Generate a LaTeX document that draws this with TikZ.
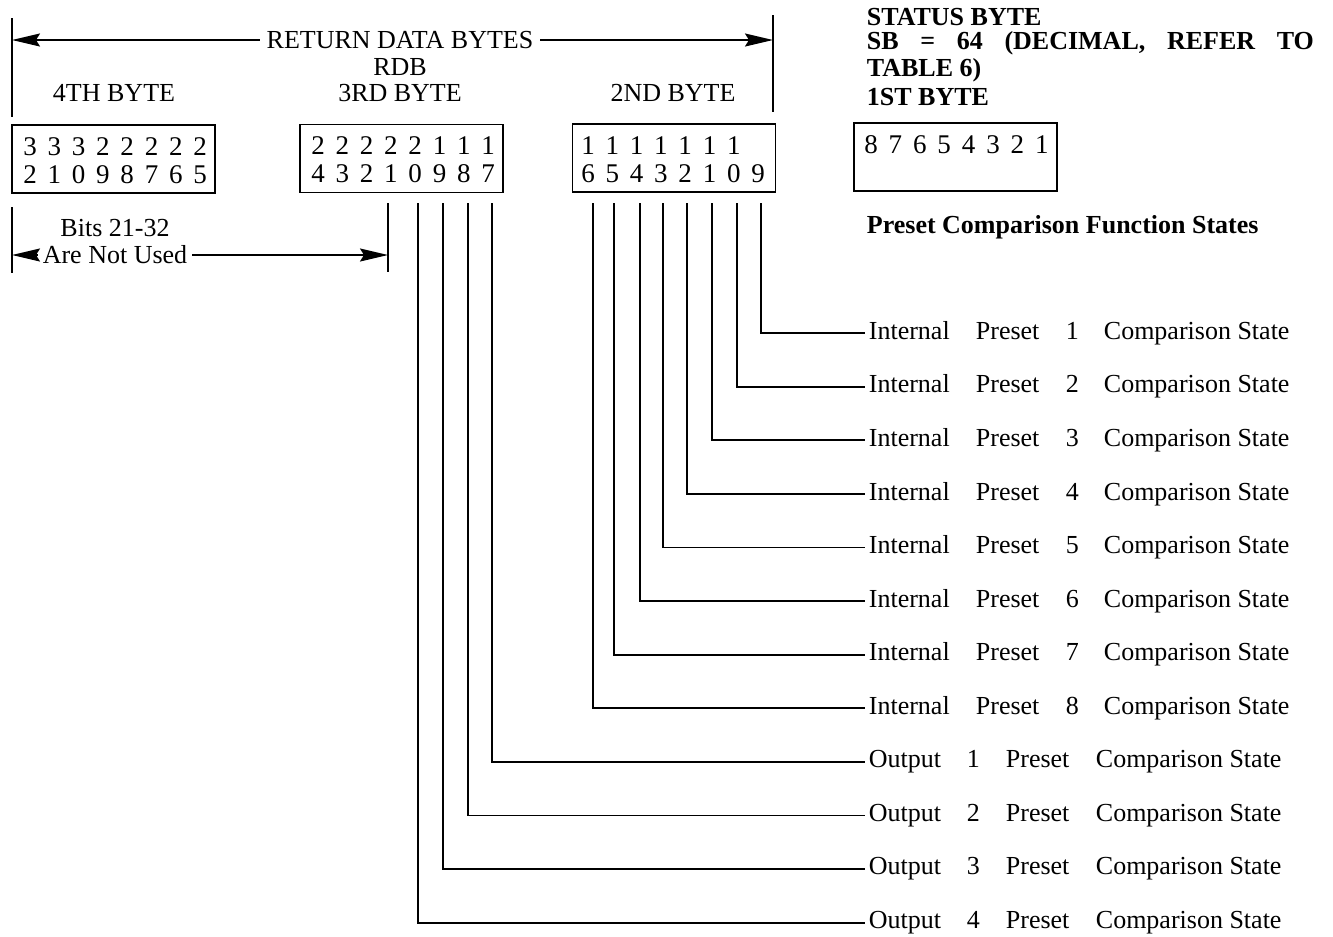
\documentclass[tikz,border=0pt]{standalone}
\usepackage{fontspec}
\setmainfont{Liberation Serif}
\usetikzlibrary{arrows.meta,positioning,calc}
\tikzset{every picture/.style={line width=0.9pt}}

\begin{document}
\begin{tikzpicture}[x=0.5pt,y=-0.5pt,
    font=\fontsize{13}{15}\selectfont,
    hd/.style={font=\fontsize{13}{15}\selectfont\bfseries,anchor=west,inner sep=0pt},
    lbl/.style={anchor=west,inner sep=1.5pt},
    dg/.style={font=\fontsize{13.5}{15}\selectfont,inner sep=0pt},
    bytebox/.style={draw,minimum width=101.5pt,minimum height=34pt,inner sep=0pt},
    tip/.style={-{Stealth[length=14pt,width=6.5pt,inset=2pt]}}]
    \fill[white] (0,0) rectangle (1333,933);
    % return data bytes
    \node[inner sep=3pt] (rdbt) at (400,40) {RETURN DATA BYTES};
    \node (rdb) at (400,67) {RDB};
    \coordinate (ltop) at (12,18);
    \coordinate (lbot) at (12,117);
    \coordinate (rtop) at (773,15);
    \coordinate (rbot) at (773,112);
    \draw (ltop) -- (lbot);
    \draw (rtop) -- (rbot);
    \draw[tip] (rdbt.west) -- (rdbt.west -| ltop);
    \draw[tip] (rdbt.east) -- (rdbt.east -| rtop);
    \node (t4) at (114,93) {4TH BYTE};
    \node (t3) at (400,93) {3RD BYTE};
    \node (t2) at (673,93) {2ND BYTE};
    % status byte
    \node[hd] (st1) at (866,17) {STATUS BYTE};
    \node[hd] (st2) at (866,43) {\makebox[223.5pt][s]{SB\hfill=\hfill 64\hfill(DECIMAL,\hfill REFER\hfill TO}};
    \node[hd] (st3) at (866,70) {TABLE 6)};
    \node[hd] (st4) at (866,97) {1ST BYTE};
    \node[hd] (pcfs) at (866,227) {Preset Comparison Function States};
    % byte boxes
    \node[bytebox] (byte4) at (113.5,159) {};
    \node[bytebox] (byte3) at (401.5,158.5) {};
    \node[bytebox] (byte2) at (674,158) {};
    \node[bytebox] (byte1) at (955.5,157) {};
    \foreach \d [count=\i from 0] in {3,3,3,2,2,2,2,2}
        \node[dg] (a\i) at ({30+24.3*\i},147) {\d};
    \foreach \d [count=\i from 0] in {2,1,0,9,8,7,6,5}
        \node[dg] (b\i) at ({30+24.3*\i},175) {\d};
    \foreach \d [count=\i from 0] in {2,2,2,2,2,1,1,1}
        \node[dg] (c\i) at ({318+24.3*\i},146) {\d};
    \foreach \d [count=\i from 0] in {4,3,2,1,0,9,8,7}
        \node[dg] (e\i) at ({318+24.3*\i},174) {\d};
    \foreach \d [count=\i from 0] in {1,1,1,1,1,1,1}
        \node[dg] (f\i) at ({588+24.3*\i},146) {\d};
    \foreach \d [count=\i from 0] in {6,5,4,3,2,1,0,9}
        \node[dg] (g\i) at ({588+24.3*\i},174) {\d};
    \foreach \d [count=\i from 0] in {8,7,6,5,4,3,2,1}
        \node[dg] (h\i) at ({871+24.4*\i},145) {\d};
    % bits 21-32
    \node (bits) at (115,228) {Bits 21-32};
    \node[inner sep=2pt] (anu) at (115,255) {Are Not Used};
    \coordinate (ntop) at (12,207);
    \coordinate (nbot) at (12,273);
    \coordinate (b21top) at (388,203);
    \coordinate (b21bot) at (388,272);
    \draw (ntop) -- (nbot);
    \draw (b21top) -- (b21bot);
    \draw[tip] (anu.west) -- (anu.west -| ntop);
    \draw[tip] (anu.east) -- (anu.east -| b21top);
    % preset states
    \foreach \k in {1,...,8}
        \node[lbl] (ip\k) at (865,{333+53.6*(\k-1)}) {\makebox[53.5pt][l]{Internal}\makebox[45pt][l]{Preset}\makebox[19pt][l]{\k}Comparison State};
    \foreach \k in {1,...,4}
        \node[lbl] (op\k) at (865,{333+53.6*(\k+7)}) {\makebox[49pt][l]{Output}\makebox[19.5pt][l]{\k}\makebox[45pt][l]{Preset}Comparison State};
    \foreach \x [count=\k] in {761,737,712,687,663,640,614,593} {
        \coordinate (ib\k) at (\x,203);
        \draw (ib\k) |- (ip\k.west);
    }
    \foreach \x [count=\k] in {492,468,443,418} {
        \coordinate (ob\k) at (\x,203);
        \draw (ob\k) |- (op\k.west);
    }
\end{tikzpicture}
\end{document}
